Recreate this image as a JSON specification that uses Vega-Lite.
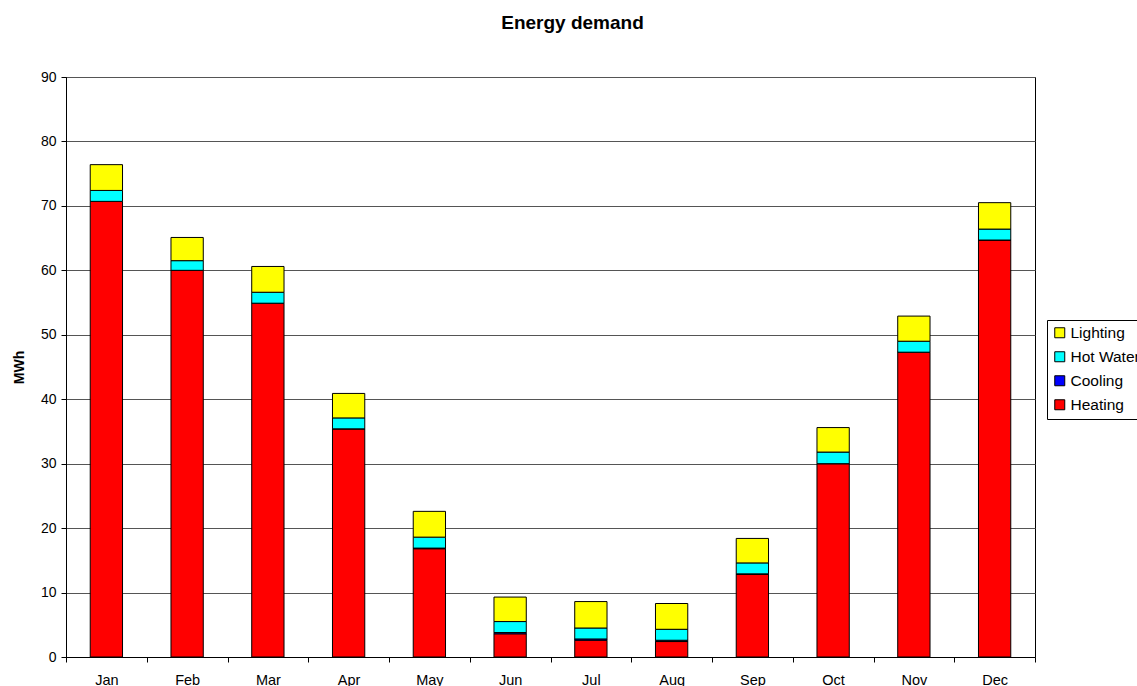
{
  "$schema": "https://vega.github.io/schema/vega-lite/v6.json",
  "width": 969,
  "height": 580,
  "autosize": {"type": "none"},
  "padding": {"left": 66, "top": 77, "right": 102, "bottom": 29},
  "background": "white",
  "config": {
    "font": "Liberation Sans",
    "view": {"stroke": "black", "strokeWidth": 1},
    "axis": {"labelFont": "Liberation Sans", "titleFont": "Liberation Sans", "labelColor": "black", "titleColor": "black", "domainColor": "black", "tickColor": "black"}
  },
  "title": {
    "text": "Energy demand",
    "fontSize": 19,
    "fontWeight": "bold",
    "font": "Liberation Sans",
    "color": "black",
    "anchor": "middle",
    "dx": 22,
    "offset": 37
  },
  "data": {
    "values": [
      {"month": "Jan", "use": "Heating", "MWh": 70.7},
      {"month": "Jan", "use": "Cooling", "MWh": 0},
      {"month": "Jan", "use": "Hot Water", "MWh": 1.7},
      {"month": "Jan", "use": "Lighting", "MWh": 4.0},
      {"month": "Feb", "use": "Heating", "MWh": 60.0},
      {"month": "Feb", "use": "Cooling", "MWh": 0},
      {"month": "Feb", "use": "Hot Water", "MWh": 1.5},
      {"month": "Feb", "use": "Lighting", "MWh": 3.6},
      {"month": "Mar", "use": "Heating", "MWh": 54.9},
      {"month": "Mar", "use": "Cooling", "MWh": 0},
      {"month": "Mar", "use": "Hot Water", "MWh": 1.7},
      {"month": "Mar", "use": "Lighting", "MWh": 4.0},
      {"month": "Apr", "use": "Heating", "MWh": 35.4},
      {"month": "Apr", "use": "Cooling", "MWh": 0},
      {"month": "Apr", "use": "Hot Water", "MWh": 1.7},
      {"month": "Apr", "use": "Lighting", "MWh": 3.8},
      {"month": "May", "use": "Heating", "MWh": 16.8},
      {"month": "May", "use": "Cooling", "MWh": 0.1},
      {"month": "May", "use": "Hot Water", "MWh": 1.7},
      {"month": "May", "use": "Lighting", "MWh": 4.0},
      {"month": "Jun", "use": "Heating", "MWh": 3.6},
      {"month": "Jun", "use": "Cooling", "MWh": 0.2},
      {"month": "Jun", "use": "Hot Water", "MWh": 1.7},
      {"month": "Jun", "use": "Lighting", "MWh": 3.8},
      {"month": "Jul", "use": "Heating", "MWh": 2.6},
      {"month": "Jul", "use": "Cooling", "MWh": 0.2},
      {"month": "Jul", "use": "Hot Water", "MWh": 1.7},
      {"month": "Jul", "use": "Lighting", "MWh": 4.1},
      {"month": "Aug", "use": "Heating", "MWh": 2.4},
      {"month": "Aug", "use": "Cooling", "MWh": 0.2},
      {"month": "Aug", "use": "Hot Water", "MWh": 1.7},
      {"month": "Aug", "use": "Lighting", "MWh": 4.0},
      {"month": "Sep", "use": "Heating", "MWh": 12.8},
      {"month": "Sep", "use": "Cooling", "MWh": 0.1},
      {"month": "Sep", "use": "Hot Water", "MWh": 1.7},
      {"month": "Sep", "use": "Lighting", "MWh": 3.8},
      {"month": "Oct", "use": "Heating", "MWh": 30.0},
      {"month": "Oct", "use": "Cooling", "MWh": 0},
      {"month": "Oct", "use": "Hot Water", "MWh": 1.8},
      {"month": "Oct", "use": "Lighting", "MWh": 3.8},
      {"month": "Nov", "use": "Heating", "MWh": 47.3},
      {"month": "Nov", "use": "Cooling", "MWh": 0},
      {"month": "Nov", "use": "Hot Water", "MWh": 1.7},
      {"month": "Nov", "use": "Lighting", "MWh": 3.9},
      {"month": "Dec", "use": "Heating", "MWh": 64.7},
      {"month": "Dec", "use": "Cooling", "MWh": 0},
      {"month": "Dec", "use": "Hot Water", "MWh": 1.7},
      {"month": "Dec", "use": "Lighting", "MWh": 4.1}
    ]
  },
  "transform": [
    {"calculate": "indexof(['Heating','Cooling','Hot Water','Lighting'], datum.use)", "as": "stackOrder"}
  ],
  "mark": {"type": "bar", "stroke": "black", "strokeWidth": 1, "width": {"band": 0.4}},
  "encoding": {
    "x": {
      "field": "month",
      "type": "nominal",
      "sort": ["Jan","Feb","Mar","Apr","May","Jun","Jul","Aug","Sep","Oct","Nov","Dec"],
      "scale": {"paddingInner": 0, "paddingOuter": 0},
      "axis": {
        "title": null,
        "labelAngle": 0,
        "labelFontSize": 14.5,
        "labelPadding": 11,
        "tickBand": "extent",
        "tickSize": 5,
        "grid": false,
        "domainWidth": 1
      }
    },
    "y": {
      "field": "MWh",
      "type": "quantitative",
      "aggregate": "sum",
      "stack": "zero",
      "scale": {"domain": [0, 90], "nice": false},
      "axis": {
        "title": "MWh",
        "titleFontSize": 14,
        "titleFontWeight": "bold",
        "titlePadding": 14,
        "values": [0,10,20,30,40,50,60,70,80,90],
        "labelFontSize": 14,
        "labelPadding": 5,
        "tickSize": 5,
        "grid": true,
        "gridColor": "#555555",
        "gridWidth": 1,
        "gridOpacity": 1
      }
    },
    "color": {
      "field": "use",
      "type": "nominal",
      "scale": {
        "domain": ["Lighting", "Hot Water", "Cooling", "Heating"],
        "range": ["#ffff00", "#00ffff", "#0000ff", "#ff0000"]
      },
      "legend": {
        "title": null,
        "orient": "none",
        "legendX": 981,
        "legendY": 243,
        "symbolType": "square",
        "symbolSize": 100,
        "symbolStrokeColor": "black",
        "symbolStrokeWidth": 1,
        "symbolOpacity": 1,
        "labelFontSize": 15.5,
        "labelColor": "black",
        "labelFont": "Liberation Sans",
        "rowPadding": 7,
        "labelOffset": 3,
        "strokeColor": "black",
        "padding": 5,
        "fillColor": "white"
      }
    },
    "order": {"field": "stackOrder", "type": "quantitative", "aggregate": "min"}
  }
}
